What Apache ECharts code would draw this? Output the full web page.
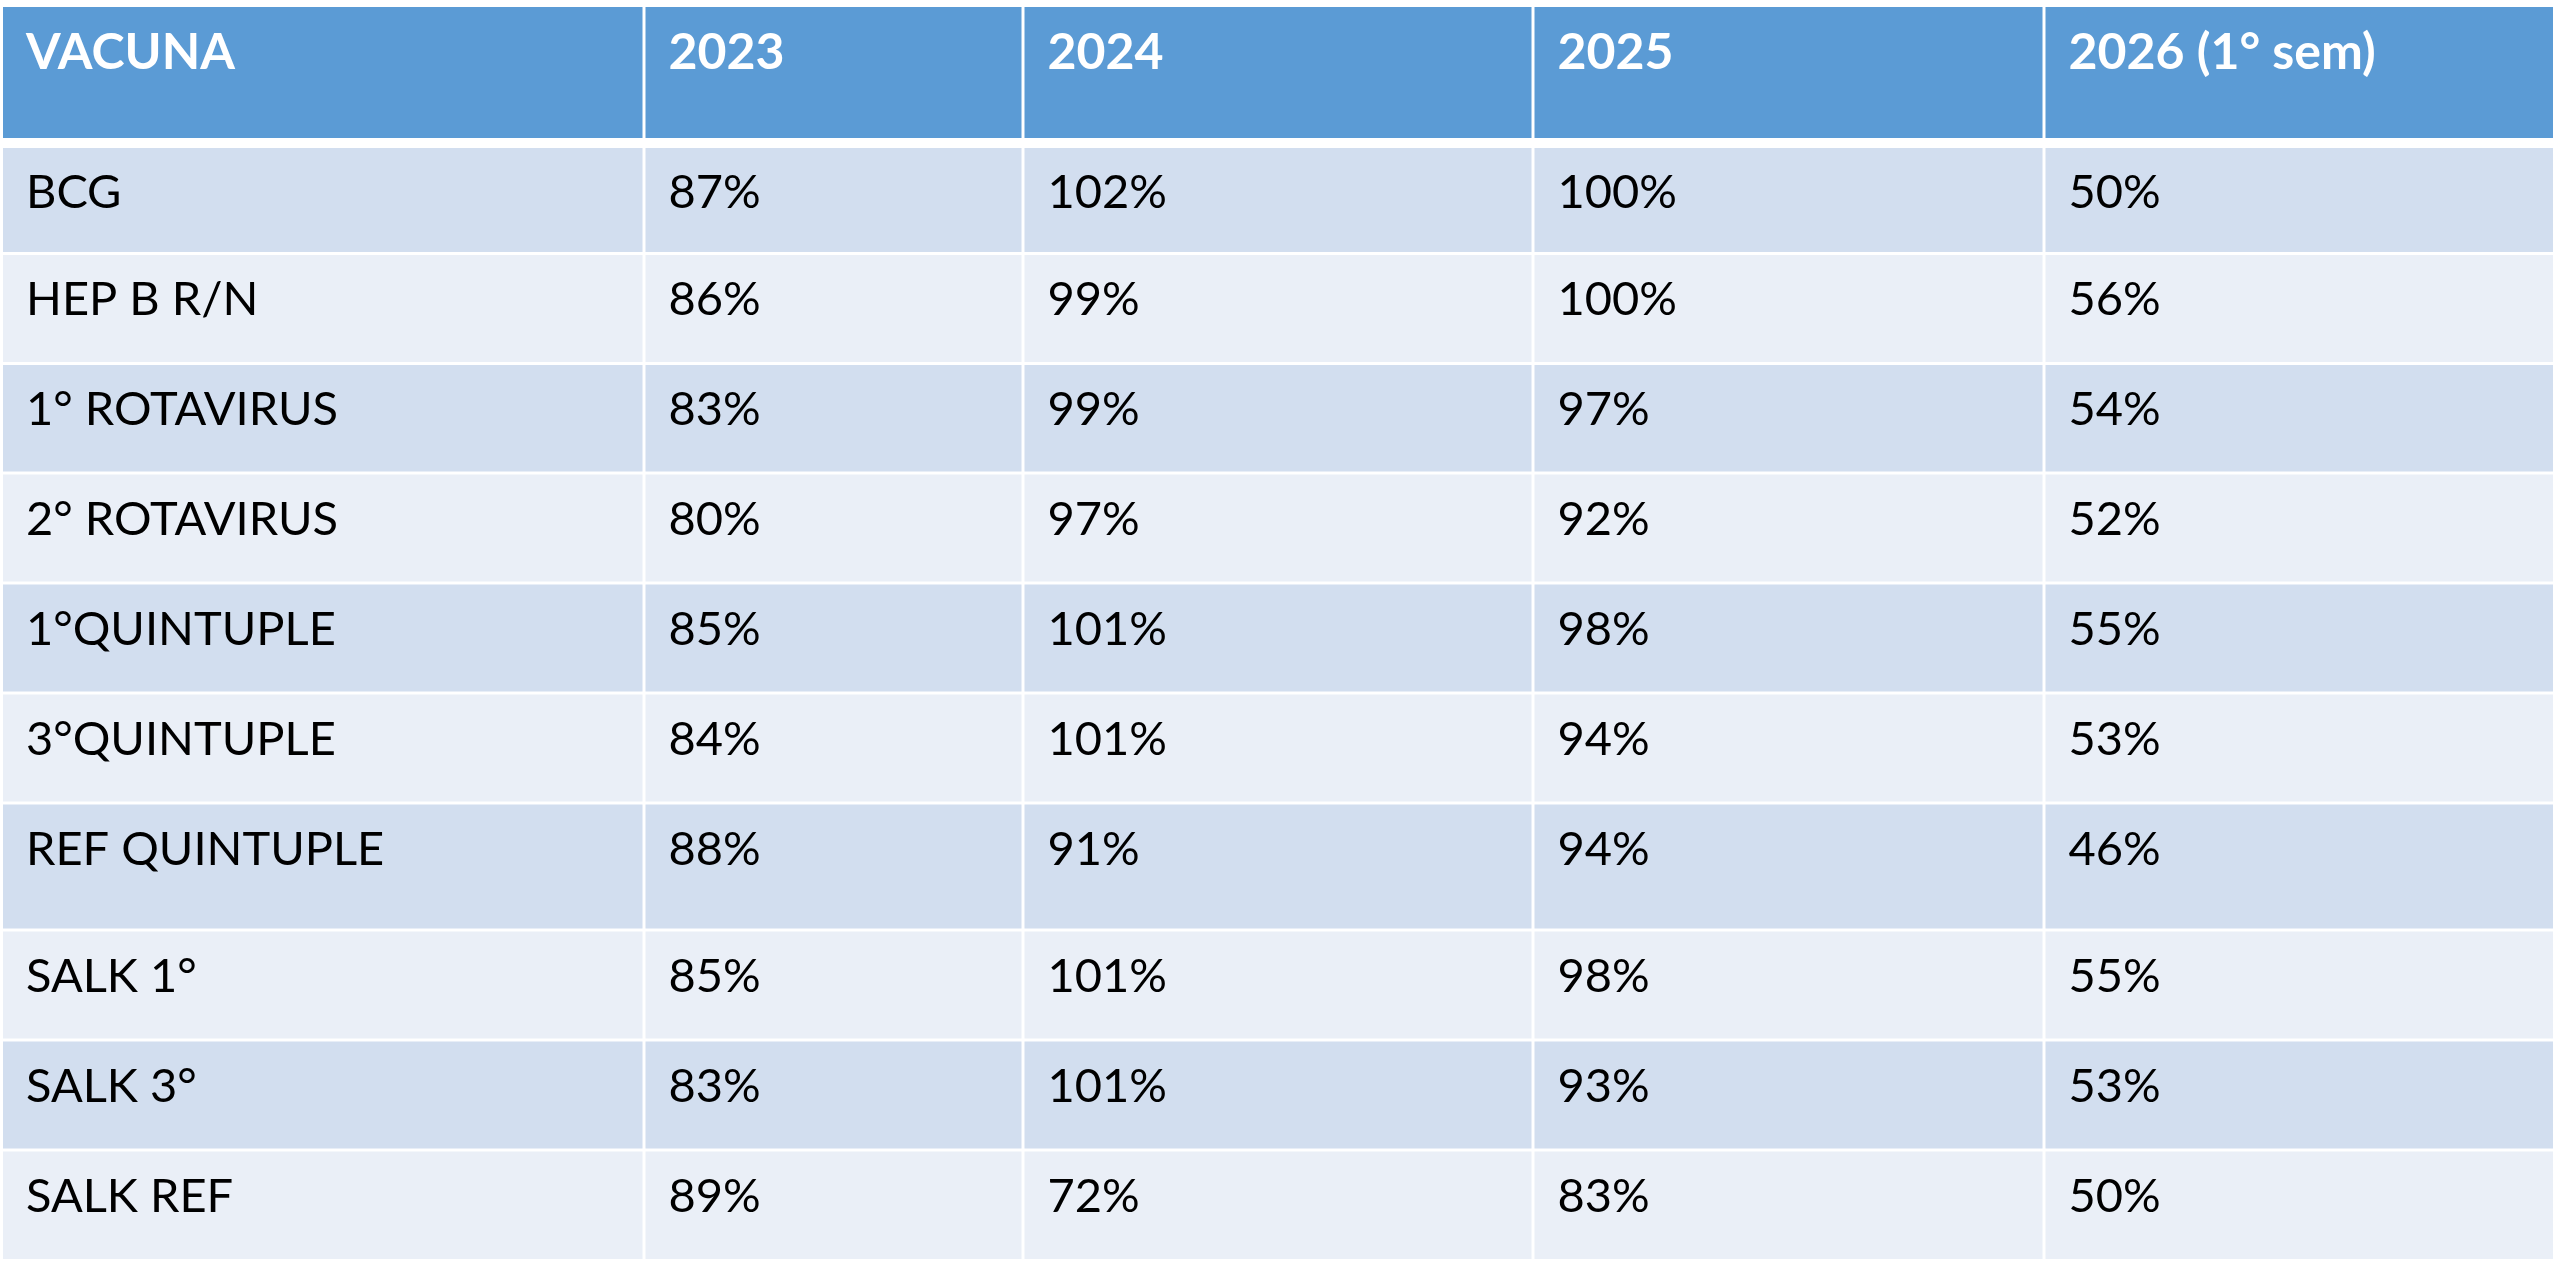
<!DOCTYPE html>
<html>
<head>
<meta charset="utf-8">
<script src="https://cdn.jsdelivr.net/npm/echarts@6/dist/echarts.min.js"></script>
<style>
  html, body { margin: 0; padding: 0; background: #fff; }
  #main { width: 2560px; height: 1264px; }
</style>
</head>
<body>
<div id="main"></div>
<script>
// table contents
var headers = ['VACUNA', '2023', '2024', '2025', '2026 (1° sem)'];
var vacunas = ['BCG', 'HEP B R/N', '1° ROTAVIRUS', '2° ROTAVIRUS', '1°QUINTUPLE',
    '3°QUINTUPLE', 'REF QUINTUPLE', 'SALK 1°', 'SALK 3°', 'SALK REF'];
var v2023 = [87, 86, 83, 80, 85, 84, 88, 85, 83, 89];
var v2024 = [102, 99, 99, 97, 101, 101, 91, 101, 101, 72];
var v2025 = [100, 100, 97, 92, 98, 94, 94, 98, 93, 83];
var v2026 = [50, 56, 54, 52, 55, 53, 46, 55, 53, 50];

// layout (axis units)
var colEdges = [0, 641, 1020, 1530, 2041, 2550];
var rowEdges = [0, 136, 246.5, 356.5, 466, 576, 686, 796, 923, 1033, 1143, 1252];

var cells = [];
headers.forEach(function (h, c) {
    cells.push([c, 0, h]);
});
var yearCols = [v2023, v2024, v2025, v2026];
vacunas.forEach(function (name, i) {
    cells.push([0, i + 1, name]);
    yearCols.forEach(function (arr, k) {
        cells.push([k + 1, i + 1, arr[i] + '%']);
    });
});

var chart = echarts.init(document.getElementById('main'));

function renderCell(params, api) {
    var c = api.value(0);
    var r = api.value(1);
    var txt = cells[params.dataIndex][2];
    var p0 = api.coord([colEdges[c], rowEdges[r]]);
    var p1 = api.coord([colEdges[c + 1], rowEdges[r + 1]]);
    var left = p0[0] + (c === 0 ? 0 : 1.5);
    var right = p1[0] - (c === 4 ? 0 : 1.5);
    var top = p0[1] + (r === 0 ? 0 : (r === 1 ? 5 : 1.5));
    var bottom = p1[1] - (r === 0 ? 5 : (r === 10 ? 0 : 1.5));
    var fill = r === 0 ? '#5B9BD5' : (r % 2 === 1 ? '#D2DEEF' : '#EAEFF7');
    return {
        type: 'group',
        children: [{
            type: 'rect',
            shape: { x: left, y: top, width: right - left, height: bottom - top },
            style: { fill: fill }
        }, {
            type: 'text',
            style: {
                text: txt,
                x: left + 23,
                y: top + (r === 0 ? 46 : 45),
                fill: r === 0 ? '#ffffff' : '#000000',
                font: (r === 0 ? 'bold 50px' : '47px') + ' Lato',
                align: 'left',
                verticalAlign: 'middle'
            }
        }]
    };
}

var option = {
    backgroundColor: '#ffffff',
    animation: false,
    grid: { left: 3, right: 7, top: 7, bottom: 5 },
    xAxis: {
        type: 'value', min: 0, max: 2550,
        axisLine: { show: false }, axisTick: { show: false },
        axisLabel: { show: false }, splitLine: { show: false }
    },
    yAxis: {
        type: 'value', min: 0, max: 1252, inverse: true,
        axisLine: { show: false }, axisTick: { show: false },
        axisLabel: { show: false }, splitLine: { show: false }
    },
    series: [{
        type: 'custom',
        renderItem: renderCell,
        data: cells.map(function (d) { return [d[0], d[1]]; })
    }]
};
chart.setOption(option);
</script>
</body>
</html>
